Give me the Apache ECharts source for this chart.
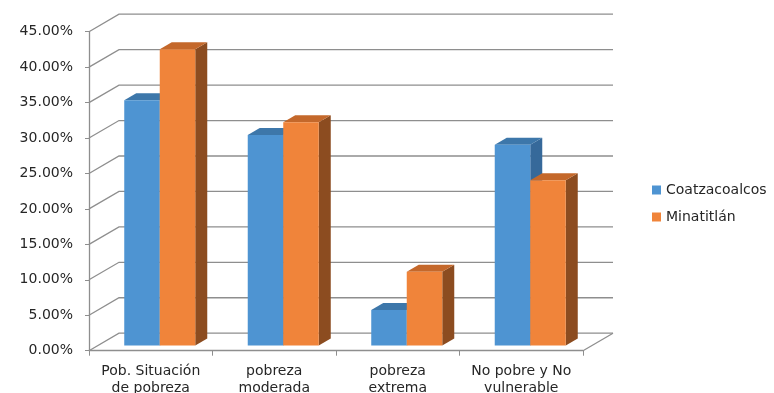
<!DOCTYPE html>
<html>
<head>
<meta charset="utf-8">
<script src="https://cdn.jsdelivr.net/npm/echarts@6/dist/echarts.min.js"></script>
<style>
  html, body { margin: 0; padding: 0; background: #ffffff; }
  #chart { width: 774px; height: 393px; }
</style>
</head>
<body>
<div id="chart"></div>
<script>
// Categories and values (shares of population)
const categories = ['Pob. Situación\nde pobreza', 'pobreza\nmoderada', 'pobreza\nextrema', 'No pobre y No\nvulnerable'];
const seriesNames = ['Coatzacoalcos', 'Minatitlán'];
const coatzacoalcos = [0.346, 0.297, 0.050, 0.283];
const minatitlan = [0.418, 0.315, 0.104, 0.233];
const yTicks = [0, 0.05, 0.10, 0.15, 0.20, 0.25, 0.30, 0.35, 0.40, 0.45];

// Pseudo-3D geometry (pixels)
const WALL_DX = 30, WALL_DY = -17.5;     // depth of the floor / back wall
const BAR_FX = 9, BAR_FY = -5.25;        // offset of the bar front plane
const BAR_DX = 12, BAR_DY = -7;          // bar thickness in depth
const BAR_FRAC = 0.2875;                 // bar width as share of a category band

const palette = [
  { front: '#4e94d2', top: '#3d77aa', side: '#36699a' },
  { front: '#f0843a', top: '#c4682b', side: '#8c4c20' }
];
const gridColor = '#8e8e8e';
const fontFamily = 'DejaVu Sans';

const chart = echarts.init(document.getElementById('chart'));

function wallRender(params, api) {
  const cs = params.coordSys;
  const v = api.value(1);
  const y = api.coord([0, v])[1];
  const x0 = cs.x;
  const children = [{
    type: 'polyline',
    shape: { points: [[x0, y], [x0 + WALL_DX, y + WALL_DY], [x0 + cs.width + WALL_DX, y + WALL_DY]] },
    style: { stroke: gridColor, lineWidth: 1.3, fill: null }
  }];
  if (v === 0) {
    children.push({
      type: 'line',
      shape: { x1: x0 + cs.width, y1: y, x2: x0 + cs.width + WALL_DX, y2: y + WALL_DY },
      style: { stroke: gridColor, lineWidth: 1.3 }
    });
  }
  return { type: 'group', children: children };
}

function barRender(sIdx) {
  return function (params, api) {
    const i = api.value(0);
    const v = api.value(1);
    const band = api.size([1, 0])[0];
    const w = band * BAR_FRAC;
    const c = api.coord([i, 0]);
    const t = api.coord([i, v]);
    const xl = c[0] - w + sIdx * w + BAR_FX;
    const xr = xl + w;
    const yb = c[1] + BAR_FY;
    const yt = t[1] + BAR_FY;
    const col = palette[sIdx];
    return {
      type: 'group',
      children: [
        { type: 'polygon', shape: { points: [[xr, yt], [xr + BAR_DX, yt + BAR_DY], [xr + BAR_DX, yb + BAR_DY], [xr, yb]] }, style: { fill: col.side } },
        { type: 'polygon', shape: { points: [[xl, yt], [xl + BAR_DX, yt + BAR_DY], [xr + BAR_DX, yt + BAR_DY], [xr, yt]] }, style: { fill: col.top } },
        { type: 'rect', shape: { x: xl, y: yt, width: w, height: yb - yt }, style: { fill: col.front } }
      ]
    };
  };
}

const option = {
  backgroundColor: '#ffffff',
  animation: false,
  textStyle: { fontFamily: fontFamily },
  grid: { left: 89, right: 191, top: 31.7, bottom: 42.3, containLabel: false, outerBoundsMode: 'none' },
  legend: {
    orient: 'vertical',
    left: 647,
    top: 178,
    itemWidth: 9,
    itemHeight: 9,
    itemGap: 13,
    icon: 'rect',
    textStyle: { fontSize: 14, color: '#262626', fontFamily: fontFamily },
    data: [
      { name: seriesNames[0], itemStyle: { color: palette[0].front } },
      { name: seriesNames[1], itemStyle: { color: palette[1].front } }
    ]
  },
  xAxis: {
    type: 'category',
    data: categories,
    boundaryGap: true,
    axisLine: { show: true, lineStyle: { color: gridColor, width: 1.3 } },
    axisTick: { show: true, length: 5, alignWithLabel: false, lineStyle: { color: gridColor } },
    axisLabel: { interval: 0, margin: 12, fontSize: 14, color: '#262626', lineHeight: 17 }
  },
  yAxis: {
    type: 'value',
    min: 0,
    max: 0.45,
    interval: 0.05,
    axisLine: { show: true, lineStyle: { color: gridColor, width: 1.3 } },
    axisTick: { show: true, length: 4, lineStyle: { color: gridColor } },
    splitLine: { show: false },
    axisLabel: {
      margin: 16,
      fontSize: 14,
      color: '#262626',
      formatter: function (v) { return (v * 100).toFixed(2) + '%'; }
    }
  },
  series: [
    {
      type: 'custom',
      name: 'wall',
      renderItem: wallRender,
      data: yTicks.map(function (v) { return [0, v]; }),
      silent: true,
      z: 1
    },
    {
      type: 'custom',
      name: seriesNames[0],
      renderItem: barRender(0),
      data: coatzacoalcos.map(function (v, i) { return [i, v]; }),
      itemStyle: { color: palette[0].front },
      z: 2
    },
    {
      type: 'custom',
      name: seriesNames[1],
      renderItem: barRender(1),
      data: minatitlan.map(function (v, i) { return [i, v]; }),
      itemStyle: { color: palette[1].front },
      z: 3
    }
  ]
};

chart.setOption(option);
</script>
</body>
</html>
